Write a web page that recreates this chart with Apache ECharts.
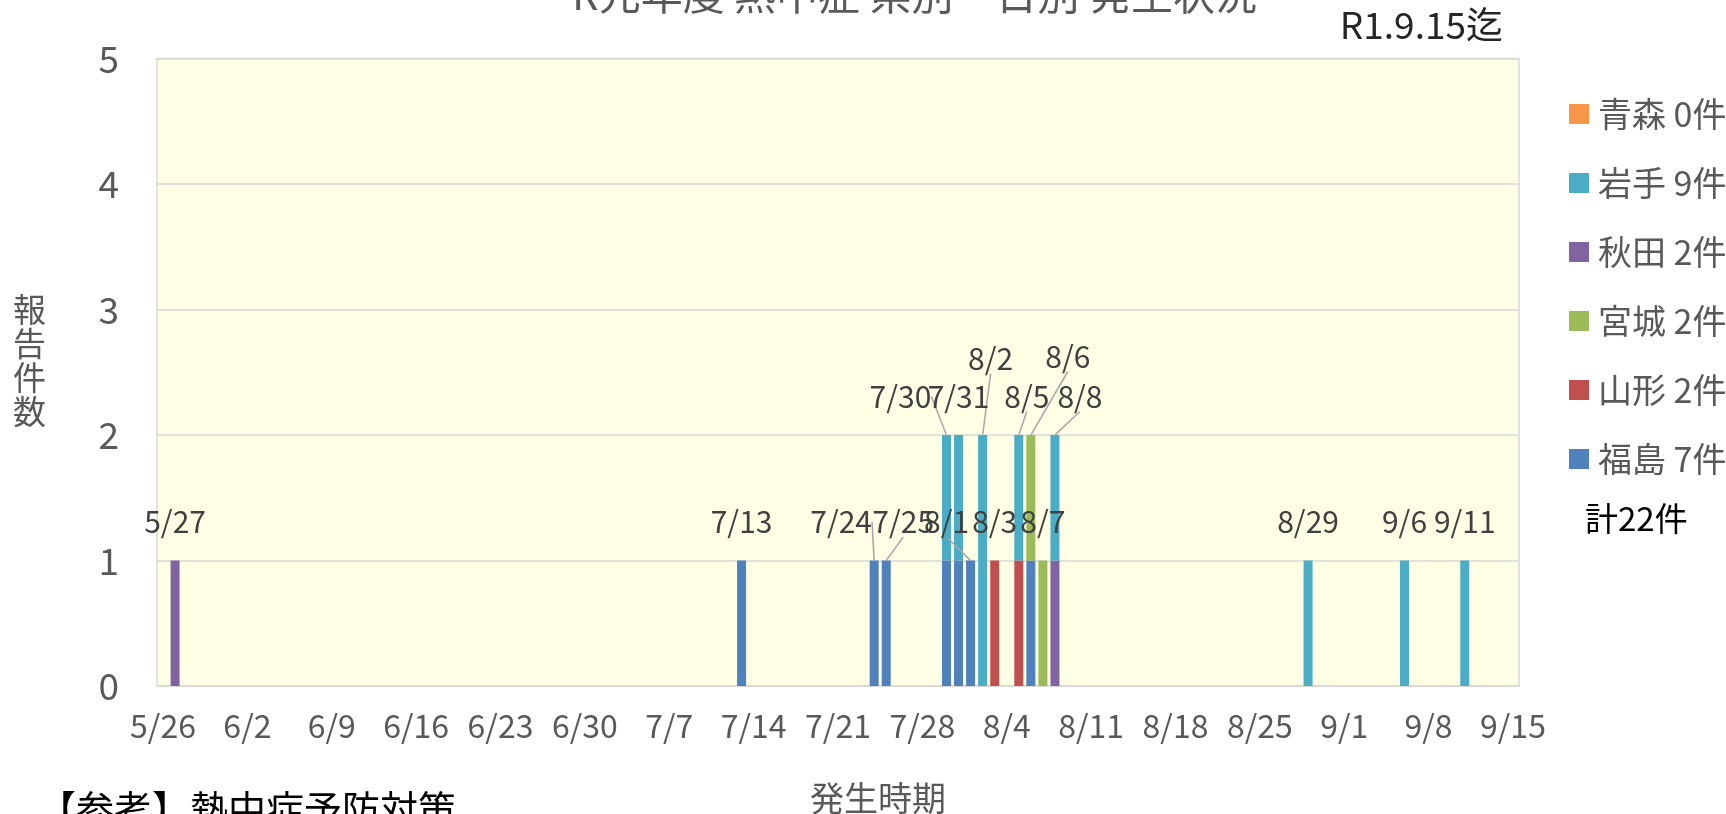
<!DOCTYPE html>
<html><head><meta charset="utf-8">
<script src="https://cdn.jsdelivr.net/npm/echarts@6/dist/echarts.min.js"></script>
<style>html,body{margin:0;padding:0;background:#fff}#c{width:1726px;height:814px}</style>
</head><body><div id="c"></div>
<script>
// ---- data ----
const TITLE = 'R元年度 熱中症 県別・日別 発生状況';
const AS_OF = 'R1.9.15迄';
const NOTE = '【参考】熱中症予防対策';
const Y_NAME = '報告件数';
const X_NAME = '発生時期';
const START_DATE = [2019, 5, 26];
const END_DATE = [2019, 9, 15];
const prefectures = ['青森', '岩手', '秋田', '宮城', '山形', '福島'];   // legend order (top of stack first)
const aomori = [];
const iwate = [['7/30', 1], ['7/31', 1], ['8/2', 2], ['8/5', 1], ['8/8', 1], ['8/29', 1], ['9/6', 1], ['9/11', 1]];
const akita = [['5/27', 1], ['8/8', 1]];
const miyagi = [['8/6', 1], ['8/7', 1]];
const yamagata = [['8/3', 1], ['8/5', 1]];
const fukushima = [['7/13', 1], ['7/24', 1], ['7/25', 1], ['7/30', 1], ['7/31', 1], ['8/1', 1], ['8/6', 1]];
const yTicks = [0, 1, 2, 3, 4, 5];

// ---- label styling (offsets of date labels that Excel moved, in px) ----
const labelShift = {
  '7/24': [-33, 0], '7/25': [17, 0], '7/30': [-46, 0], '8/1': [-24, 0],
  '8/2': [8, -38], '8/5': [8, 0], '8/6': [37, -40], '8/8': [25, 0]
};

// ---- build ----
const categories = [];
for (let d = new Date(START_DATE[0], START_DATE[1] - 1, START_DATE[2]);
     d <= new Date(END_DATE[0], END_DATE[1] - 1, END_DATE[2]);
     d.setDate(d.getDate() + 1)) {
  categories.push((d.getMonth() + 1) + '/' + d.getDate());
}
const events = { '青森': aomori, '岩手': iwate, '秋田': akita, '宮城': miyagi, '山形': yamagata, '福島': fukushima };
const colors = { '青森': '#F79646', '岩手': '#4BACC6', '秋田': '#8064A2', '宮城': '#9BBB59', '山形': '#C0504D', '福島': '#4F81BD' };
function toArray(list) {
  const arr = categories.map(() => 0);
  list.forEach(([d, v]) => { arr[categories.indexOf(d)] += v; });
  return arr;
}
const seriesData = {};
const counts = {};
prefectures.forEach(p => {
  seriesData[p] = toArray(events[p]);
  counts[p] = seriesData[p].reduce((a, b) => a + b, 0);
});
const grand = prefectures.reduce((a, p) => a + counts[p], 0);
const totals = categories.map((c, i) => prefectures.reduce((a, p) => a + seriesData[p][i], 0));

const FONT = '"Noto Sans CJK JP", "Noto Sans", sans-serif';
const stackOrder = prefectures.slice().reverse(); // bottom first

const series = stackOrder.map(p => ({
  name: p, type: 'bar', stack: 'all', barWidth: 9,
  itemStyle: { color: colors[p] },
  data: seriesData[p].map(v => v === 0 ? '-' : v)
}));
series.push({
  name: 'labels', type: 'line', z: 10,
  symbol: 'circle', symbolSize: 1, showSymbol: true,
  lineStyle: { opacity: 0, width: 0 },
  itemStyle: { color: 'rgba(0,0,0,0)' },
  label: {
    show: true, position: 'top', distance: 23,
    fontFamily: FONT, fontSize: 30, color: '#404040',
    formatter: p => categories[p.dataIndex]
  },
  labelLine: { show: false, lineStyle: { color: '#A6A6A6', width: 1.5 } },
  labelLayout: p => {
    const s = labelShift[categories[p.dataIndex]];
    return s ? { dx: s[0], dy: s[1] } : {};
  },
  data: totals.map((v, i) => {
    if (v === 0) return '-';
    return labelShift[categories[i]] ? { value: v, labelLine: { show: true } } : v;
  }),
  silent: true
});

const chart = echarts.init(document.getElementById('c'), null, { renderer: 'canvas' });
chart.setOption({
  animation: false,
  textStyle: { fontFamily: FONT },
  grid: {
    left: 157, right: 207, top: 58.5, bottom: 128,
    outerBoundsMode: 'none', containLabel: false,
    show: true, backgroundColor: '#FFFFE5', borderColor: '#D9D9D9', borderWidth: 1.5
  },
  xAxis: {
    type: 'category', data: categories,
    name: X_NAME, nameLocation: 'middle', nameGap: 95,
    nameTextStyle: { fontFamily: FONT, fontSize: 34, color: '#595959', padding: [0, 0, 0, 80] },
    axisLine: { lineStyle: { color: '#D9D9D9', width: 1.5 } },
    axisTick: { interval: 6, length: 10, lineStyle: { color: '#D9D9D9', width: 1.5 } },
    axisLabel: { interval: 6, margin: 24, fontFamily: FONT, fontSize: 32, color: '#595959' },
    splitLine: { show: false }
  },
  yAxis: {
    type: 'value', min: yTicks[0], max: yTicks[yTicks.length - 1], interval: 1,
    axisLine: { show: false }, axisTick: { show: false },
    axisLabel: { margin: 38, fontFamily: FONT, fontSize: 37, color: '#595959' },
    splitLine: { lineStyle: { color: '#D9D9D9', width: 1.5 } }
  },
  legend: {
    data: prefectures, orient: 'vertical', left: 1564, top: 92,
    itemWidth: 20, itemHeight: 20, itemGap: 35, icon: 'rect',
    selectedMode: false,
    formatter: n => n + ' ' + counts[n] + '件',
    textStyle: { fontFamily: FONT, fontSize: 34, lineHeight: 34, color: '#595959', padding: [0, 0, 0, 4] }
  },
  graphic: [
    { type: 'text', left: 572, top: -27, style: { text: TITLE, font: '42px ' + FONT, fill: '#595959' } },
    { type: 'text', right: 223, top: 6, style: { text: AS_OF, font: '37px ' + FONT, fill: '#262626' } },
    { type: 'text', left: 1585, top: 502, style: { text: '計' + grand + '件', font: '33px ' + FONT, fill: '#000' } },
    { type: 'text', left: 38, top: 790, style: { text: NOTE, font: '38px ' + FONT, fill: '#000' } },
    { type: 'text', left: 13, top: 292, style: { text: Y_NAME.split('').join('\n'), font: '33px ' + FONT, lineHeight: 34, fill: '#595959' } }
  ],
  series: series
});
</script>
</body></html>
